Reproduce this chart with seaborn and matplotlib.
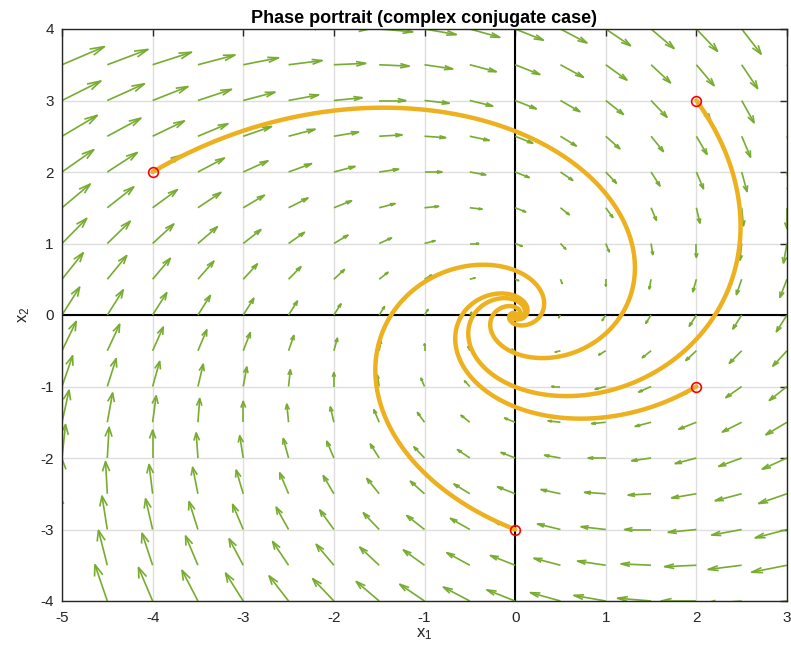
import numpy as np
import pandas as pd
import matplotlib
matplotlib.use("Agg")
import matplotlib.pyplot as plt
from matplotlib.collections import LineCollection
import seaborn as sns

# Linear system x' = A x with complex conjugate eigenvalues (-1 +/- 2i)
A = np.array([[-1.0, 2.0],
              [-2.0, -1.0]])

# Initial conditions of the plotted trajectories
x1_init = [-4.0, 2.0, 2.0, 0.0]
x2_init = [2.0, 3.0, -1.0, -3.0]

# Direction-field grid and axis ticks
grid_x1 = np.arange(-5.0, 3.01, 0.5)
grid_x2 = np.arange(-4.0, 4.01, 0.5)
xticks = [-5, -4, -3, -2, -1, 0, 1, 2, 3]
yticks = [-4, -3, -2, -1, 0, 1, 2, 3, 4]
t_end = 7.0

ARROW = "#77AC30"
TRAJ = "#EDB120"

sns.set_theme(style="whitegrid")
plt.rcParams["font.family"] = ["Liberation Sans", "DejaVu Sans"]
plt.rcParams["mathtext.default"] = "regular"
plt.rcParams["axes.unicode_minus"] = False

fig = plt.figure(figsize=(7.91, 6.48), dpi=100)
ax = fig.add_axes([62 / 791, 1 - 601 / 648, (787 - 62) / 791, (601 - 29) / 648])
ax.set_facecolor("white")

# coordinate axes through the origin
ax.axhline(0, color="black", lw=1.5, zorder=1)
ax.axvline(0, color="black", lw=1.5, zorder=1)

# direction field, drawn as open-headed arrows
X1, X2 = np.meshgrid(grid_x1, grid_x2)
U = A[0, 0] * X1 + A[0, 1] * X2
V = A[1, 0] * X1 + A[1, 1] * X2
scale = 0.039
U, V = U * scale, V * scale
alpha, beta = 0.30, 0.30
segs = []
for x, y, u, v in zip(X1.ravel(), X2.ravel(), U.ravel(), V.ravel()):
    tx, ty = x + u, y + v
    segs.append([(x, y), (tx, ty)])
    segs.append([(tx - alpha * (u + beta * v), ty - alpha * (v - beta * u)), (tx, ty),
                 (tx - alpha * (u - beta * v), ty - alpha * (v + beta * u))])
ax.add_collection(LineCollection(segs, colors=ARROW, linewidths=1.2, zorder=2))

# trajectories from the eigen-decomposition of A
evals, evecs = np.linalg.eig(A)
evecs_inv = np.linalg.inv(evecs)
t = np.linspace(0, t_end, 4000)
for a, b in zip(x1_init, x2_init):
    c = evecs_inv @ np.array([a, b])
    sol = (evecs @ (c[:, None] * np.exp(np.outer(evals, t)))).real
    df = pd.DataFrame({"x1": sol[0], "x2": sol[1]})
    sns.lineplot(data=df, x="x1", y="x2", sort=False, estimator=None,
                 color=TRAJ, lw=3.2, ax=ax, zorder=3)

ax.plot(x1_init, x2_init, "o", mfc="none", mec="red", mew=1.2, ms=7, zorder=4)

ax.set_xlim(-5, 3)
ax.set_ylim(-4, 4)
ax.set_xticks(xticks)
ax.set_yticks(yticks)
ax.grid(True, color="#dedede", lw=1)
ax.tick_params(direction="in", top=True, right=True, length=5, width=1,
               labelsize=11, colors="#262626")
ax.tick_params(axis="x", pad=7)
ax.tick_params(axis="y", pad=6)
for s in ax.spines.values():
    s.set_color("#262626")
    s.set_linewidth(1)
ax.set_xlabel(r"$x_1$", fontsize=12, color="#262626", labelpad=1)
ax.set_ylabel(r"$x_2$", fontsize=12, color="#262626", labelpad=6)
ax.set_title("Phase portrait (complex conjugate case)", fontsize=13,
             fontweight="bold", color="black", pad=4)

fig.savefig("out.png", dpi=100)
